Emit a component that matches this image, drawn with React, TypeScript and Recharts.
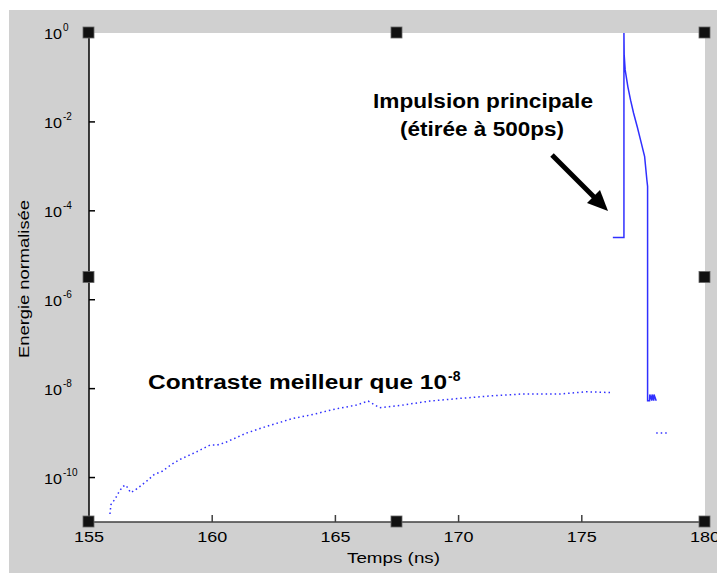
import React from 'react'
import {
  LineChart,
  Line,
  XAxis,
  YAxis,
  CartesianGrid,
  ReferenceDot,
} from 'recharts'

// temps (ns) et exposants (énergie = 10^exp)
const floorTimes = [
  155.85, 155.89, 156.06, 156.21, 156.37, 156.5, 156.69, 156.82, 157.0, 157.34,
  157.65, 157.97, 158.31, 158.66, 159.3, 159.91, 160.2, 160.54, 161.39, 162.2,
  163.28, 164.1, 164.9, 165.85, 166.33, 166.8, 167.6, 168.83, 170.04, 171.4,
  172.6, 174.1, 175.18, 176.26,
]
const floorExp = [
  -10.82, -10.61, -10.48, -10.33, -10.2, -10.17, -10.34, -10.3, -10.23, -10.08,
  -9.93, -9.86, -9.72, -9.6, -9.44, -9.27, -9.27, -9.21, -9.0, -8.85,
  -8.67, -8.58, -8.47, -8.37, -8.28, -8.43, -8.38, -8.28, -8.22, -8.16,
  -8.12, -8.12, -8.07, -8.09,
]

const pulseTimes = [
  176.26, 176.71, 176.71, 176.72, 176.76, 176.87, 176.98, 177.1, 177.25, 177.38,
  177.55, 177.64, 177.67, 177.67, 177.75, 177.76, 177.84, 177.85, 177.92, 177.93, 178.02,
]
const pulseExp = [
  -4.6, -4.6, 0, -0.49, -0.83, -1.21, -1.51, -1.8, -2.11, -2.4,
  -2.78, -3.3, -3.45, -8.27, -8.27, -8.13, -8.27, -8.13, -8.27, -8.13, -8.27,
]

const tailTimes = [178.02, 178.53]
const tailExp = [-9.0, -9.0]

const xTicks = [155, 160, 165, 170, 175, 180]
const yTickExp = [-10, -8, -6, -4, -2, 0]

const handleXs = [155, 167.5, 180]
const handleYs = [1e-11, Math.pow(10, -5.5), 1]

const toPoints = (ts: number[], es: number[]) =>
  ts.map((t, i) => ({ t, v: Math.pow(10, es[i]) }))

const floorData = toPoints(floorTimes, floorExp)
const pulseData = toPoints(pulseTimes, pulseExp)
const tailData = toPoints(tailTimes, tailExp)

const FONT = '"Liberation Sans", Arial, sans-serif'
const BLUE = '#3030ff'

const XTick = ({ x, y, payload }: any) => {
  const v = payload.value
  const edge = v === 155 || v === 180
  return (
    <g>
      {!edge && <line x1={x} x2={x} y1={y} y2={y - 7} stroke="#404040" strokeWidth={1.5} />}
      <text
        x={x - 15}
        y={y + 20}
        fontSize={14}
        fontFamily={FONT}
        fill="#000"
        textLength={30}
        lengthAdjust="spacingAndGlyphs"
      >
        {v}
      </text>
    </g>
  )
}

const YTick = ({ x, y, payload }: any) => {
  const e = Math.round(Math.log10(payload.value))
  return (
    <g>
      {e !== 0 && <line x1={x} x2={x + 6} y1={y} y2={y} stroke="#000" strokeWidth={1.5} />}
      <text x={44} y={y + 6} fontSize={14} fontFamily={FONT} fill="#000" textLength={18} lengthAdjust="spacingAndGlyphs">
        10
      </text>
      <text x={63} y={y - 2} fontSize={10} fontFamily={FONT} fill="#000">
        {e}
      </text>
    </g>
  )
}

const Handle = ({ cx, cy }: any) => (
  <g>
    <rect x={cx - 6} y={cy - 6} width={11} height={11} fill="#111" stroke="#666" strokeWidth={0.8} />
  </g>
)

export default function App() {
  return (
    <div style={{ position: 'absolute', left: 0, top: 0, width: 717, height: 573, background: '#fff' }}>
      <div style={{ position: 'absolute', left: 9, top: 10, width: 708, height: 563, background: '#d0d0d0' }} />
      <div style={{ position: 'absolute', left: 0, top: 0 }}>
        <LineChart width={717} height={573} margin={{ top: 33, right: 12, bottom: 11, left: 9 }}>
          <CartesianGrid horizontal={false} vertical={false} fill="#ffffff" stroke="none" />
          <XAxis
            type="number"
            dataKey="t"
            domain={[155, 180]}
            ticks={xTicks}
            allowDataOverflow
            height={40}
            tickSize={0}
            tickMargin={0}
            tick={<XTick />}
            axisLine={{ stroke: '#404040', strokeWidth: 1.5 }}
            tickLine={false}
          />
          <YAxis
            type="number"
            dataKey="v"
            scale="log"
            domain={[1e-11, 1]}
            ticks={yTickExp.map((e) => Math.pow(10, e))}
            allowDataOverflow
            width={80}
            tickSize={0}
            tickMargin={0}
            tick={<YTick />}
            axisLine={{ stroke: '#000', strokeWidth: 1.5 }}
            tickLine={false}
          />
          <Line
            data={floorData}
            dataKey="v"
            type="linear"
            stroke={BLUE}
            strokeWidth={1.5}
            strokeDasharray="1.5 3"
            dot={false}
            isAnimationActive={false}
          />
          <Line
            data={pulseData}
            dataKey="v"
            type="linear"
            stroke={BLUE}
            strokeWidth={1.5}
            dot={false}
            isAnimationActive={false}
          />
          <Line
            data={tailData}
            dataKey="v"
            type="linear"
            stroke={BLUE}
            strokeWidth={1.5}
            strokeDasharray="1.5 3"
            dot={false}
            isAnimationActive={false}
          />
          {handleXs.flatMap((hx) =>
            handleYs
              .filter((hy, j) => !(hx === 167.5 && j === 1))
              .map((hy) => (
                <ReferenceDot key={`${hx}-${hy}`} x={hx} y={hy} r={5} ifOverflow="visible" shape={<Handle />} />
              ))
          )}
        </LineChart>
      </div>
      <svg width={717} height={573} style={{ position: 'absolute', left: 0, top: 0, pointerEvents: 'none' }}>
        <text x={347} y={563} fontSize={14} fontFamily={FONT} fill="#000" textLength={93} lengthAdjust="spacingAndGlyphs">
          Temps (ns)
        </text>
        <text
          transform="translate(29,358) rotate(-90)"
          fontSize={14}
          fontFamily={FONT}
          fill="#000"
          textLength={158}
          lengthAdjust="spacingAndGlyphs"
        >
          Energie normalisée
        </text>
        <text x={373} y={108} fontSize={20} fontWeight="bold" fontFamily={FONT} textLength={220} lengthAdjust="spacingAndGlyphs" fill="#000">
          Impulsion principale
        </text>
        <text x={400} y={136} fontSize={20} fontWeight="bold" fontFamily={FONT} textLength={164} lengthAdjust="spacingAndGlyphs" fill="#000">
          (étirée à 500ps)
        </text>
        <text x={148} y={389} fontSize={20} fontWeight="bold" fontFamily={FONT} textLength={299} lengthAdjust="spacingAndGlyphs" fill="#000">
          Contraste meilleur que 10
        </text>
        <text x={448} y={381} fontSize={14} fontWeight="bold" fontFamily={FONT} fill="#000">
          -8
        </text>
        <line x1={552} y1={155} x2={597} y2={200} stroke="#000" strokeWidth={5} />
        <polygon points="608,211 587,203 600,190" fill="#000" />
      </svg>
    </div>
  )
}
